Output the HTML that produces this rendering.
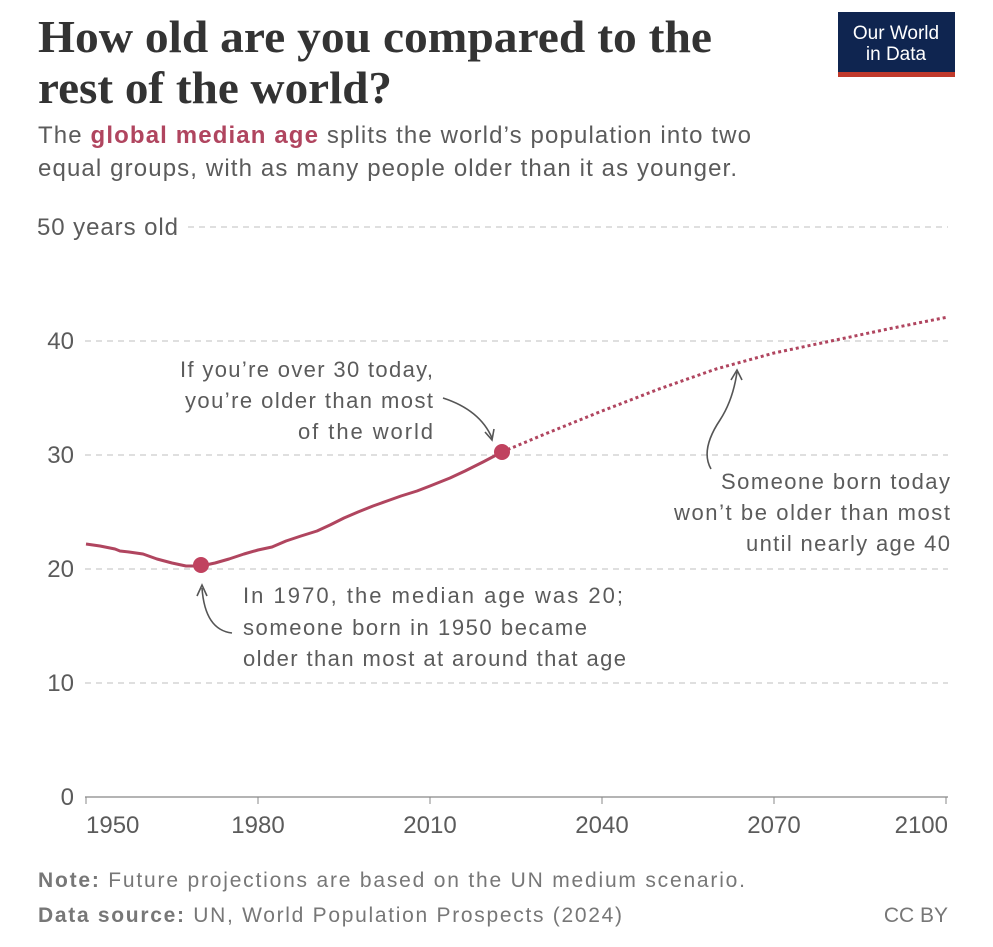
<!DOCTYPE html>
<html><head><meta charset="utf-8"><style>
body{margin:0;background:#fff;}
svg{display:block;}
</style></head><body>
<svg width="993" height="947" xmlns="http://www.w3.org/2000/svg" font-family="Liberation Sans, sans-serif">
<rect width="993" height="947" fill="#fff"/>
<text x="38" y="52" font-family="Liberation Serif, serif" font-weight="bold" font-size="46" fill="#333" textLength="674" lengthAdjust="spacingAndGlyphs">How old are you compared to the</text>
<text x="38" y="103" font-family="Liberation Serif, serif" font-weight="bold" font-size="46" fill="#333" textLength="354" lengthAdjust="spacingAndGlyphs">rest of the world?</text>
<text x="38" y="143" font-size="24" fill="#5b5b5b" textLength="713">The <tspan fill="#b0455f" font-weight="bold">global median age</tspan> splits the world’s population into two</text>
<text x="38" y="176" font-size="24" fill="#5b5b5b" textLength="699">equal groups, with as many people older than it as younger.</text>
<rect x="838" y="12" width="117" height="60" fill="#0f2550"/>
<rect x="838" y="72" width="117" height="5" fill="#c0392b"/>
<text x="896" y="39" text-anchor="middle" font-size="19" fill="#fff">Our World</text>
<text x="896" y="60" text-anchor="middle" font-size="19" fill="#fff">in Data</text>
<g stroke="#ccc" stroke-dasharray="6,5" stroke-width="1.2">
<line x1="188" y1="227" x2="948" y2="227"/>
<line x1="85" y1="341" x2="948" y2="341"/>
<line x1="85" y1="455" x2="948" y2="455"/>
<line x1="85" y1="569" x2="948" y2="569"/>
<line x1="85" y1="683" x2="948" y2="683"/>
</g>
<line x1="85" y1="797" x2="948" y2="797" stroke="#888" stroke-width="1.2"/>
<g stroke="#888"><line x1="86" y1="797" x2="86" y2="804"/><line x1="258" y1="797" x2="258" y2="804"/><line x1="430" y1="797" x2="430" y2="804"/><line x1="602" y1="797" x2="602" y2="804"/><line x1="774" y1="797" x2="774" y2="804"/><line x1="946" y1="797" x2="946" y2="804"/></g>
<g font-size="24" fill="#5b5b5b">
<text x="37" y="235" textLength="141">50 years old</text>
<text x="74" y="349" text-anchor="end">40</text>
<text x="74" y="463" text-anchor="end">30</text>
<text x="74" y="577" text-anchor="end">20</text>
<text x="74" y="691" text-anchor="end">10</text>
<text x="74" y="805" text-anchor="end">0</text>
<text x="86" y="833">1950</text>
<text x="258" y="833" text-anchor="middle">1980</text>
<text x="430" y="833" text-anchor="middle">2010</text>
<text x="602" y="833" text-anchor="middle">2040</text>
<text x="774" y="833" text-anchor="middle">2070</text>
<text x="948" y="833" text-anchor="end">2100</text>
</g>
<polyline fill="none" stroke="#b0455f" stroke-width="3" stroke-linejoin="round" points="86,544 100,546 115,549 120,551 129,552 143,554 157,559 172,563 186,566 201,566 215,563 229,559 244,554 258,550 272,547 286,541 301,536 317,531 330,525 344,518 358,512 373,506 387,501 401,496 417,491 430,486 450,478 465,471 483,462 502,452"/>
<polyline fill="none" stroke="#b0455f" stroke-width="3" stroke-dasharray="3,3" points="502,452 545,434 602,411 659,389 716,369 774,353 831,341 888,329 948,317"/>
<circle cx="502" cy="452" r="8" fill="#c0425f"/>
<circle cx="201" cy="565" r="8" fill="#c0425f"/>
<g font-size="22" fill="#5b5b5b">
<text x="180" y="377" textLength="253">If you’re over 30 today,</text>
<text x="185" y="408" textLength="248">you’re older than most</text>
<text x="298" y="439" textLength="135">of the world</text>
<text x="721" y="489" textLength="229">Someone born today</text>
<text x="674" y="520" textLength="276">won’t be older than most</text>
<text x="746" y="551" textLength="204">until nearly age 40</text>
<text x="243" y="603" textLength="380">In 1970, the median age was 20;</text>
<text x="243" y="635" textLength="344">someone born in 1950 became</text>
<text x="243" y="666" textLength="383">older than most at around that age</text>
</g>
<g fill="none" stroke="#555" stroke-width="1.6">
<path d="M443,398 Q480,410 492,438"/><path d="M485,432 L492,440 L494,429"/>
<path d="M711,469 Q700,450 720,420 Q733,400 737,372"/><path d="M731,380 L737,370 L742,380"/>
<path d="M232,633 Q205,630 202,588"/><path d="M197,596 L202,585 L207,596"/>
</g>
<text x="38" y="887" font-size="21" fill="#777" textLength="707"><tspan font-weight="bold">Note:</tspan> Future projections are based on the UN medium scenario.</text>
<text x="38" y="922" font-size="21" fill="#777" textLength="584"><tspan font-weight="bold">Data source:</tspan> UN, World Population Prospects (2024)</text>
<text x="948" y="922" text-anchor="end" font-size="21" fill="#777">CC BY</text>
</svg>
</body></html>
